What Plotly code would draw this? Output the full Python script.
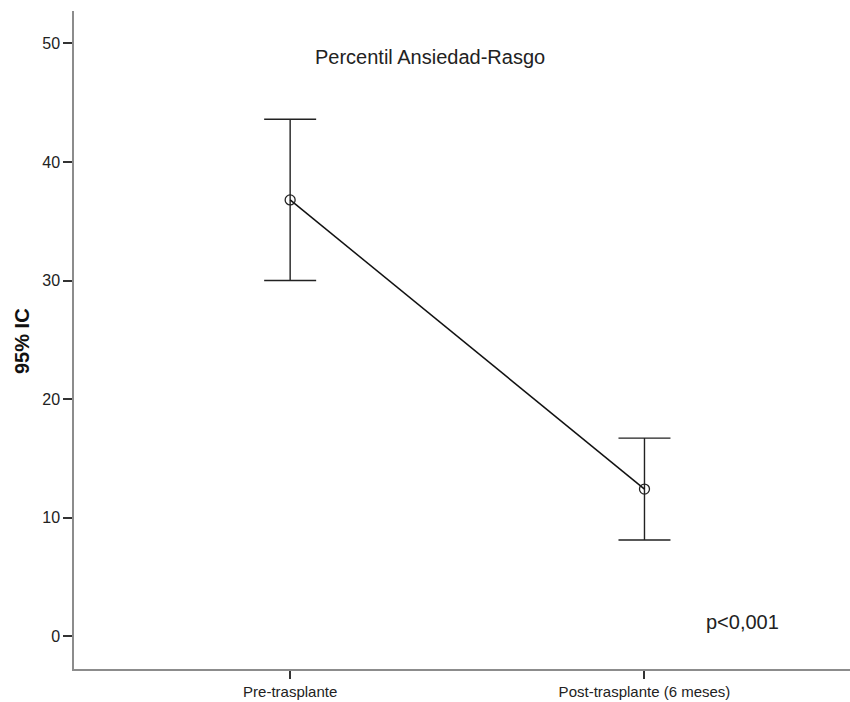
import plotly.graph_objects as go

categories = ["Pre-trasplante", "Post-trasplante (6 meses)"]
means = [36.8, 12.4]
upper = [43.6, 16.7]
lower = [30.0, 8.1]
y_ticks = [0, 10, 20, 30, 40, 50]
title_text = "Percentil Ansiedad-Rasgo"
p_text = "p<0,001"
y_label = "95% IC"

err_plus = [u - m for u, m in zip(upper, means)]
err_minus = [m - l for m, l in zip(means, lower)]
xpos = list(range(len(categories)))

FONT = "Liberation Sans, Arial, sans-serif"

fig = go.Figure()
fig.add_trace(go.Scatter(
    x=xpos, y=means,
    mode="lines+markers",
    line=dict(color="#111111", width=1.5),
    marker=dict(symbol="circle-open", size=10, color="#222222", line=dict(width=1.3, color="#222222")),
    error_y=dict(type="data", symmetric=False, array=err_plus, arrayminus=err_minus,
                 color="#222222", thickness=1.4, width=26),
    showlegend=False,
))

fig.update_layout(
    width=850, height=702,
    margin=dict(l=74, r=0, t=11, b=33),
    paper_bgcolor="white", plot_bgcolor="white",
    font=dict(family=FONT, color="#222222"),
    xaxis=dict(
        range=[-0.61, 1.58], tickmode="array", tickvals=xpos, ticktext=categories,
        showgrid=False, zeroline=False, showline=True, linecolor="#8c8c8c", linewidth=1.5,
        ticks="outside", ticklen=8, tickwidth=1.5, tickcolor="#333333",
        tickfont=dict(size=15, family=FONT, color="#222222"),
    ),
    yaxis=dict(
        range=[-2.78, 52.74], tickmode="array", tickvals=y_ticks,
        showgrid=False, zeroline=False, showline=True, linecolor="#8c8c8c", linewidth=1.5,
        ticks="outside", ticklen=9, tickwidth=1.5, tickcolor="#333333",
        tickfont=dict(size=16, family=FONT, color="#222222"),
    ),
    annotations=[
        dict(text=title_text, xref="paper", yref="paper", x=0.4588, y=0.930,
             xanchor="center", yanchor="middle", showarrow=False,
             font=dict(size=20, family=FONT, color="#222222")),
        dict(text=p_text, xref="paper", yref="paper", x=0.861, y=0.0714,
             xanchor="center", yanchor="middle", showarrow=False,
             font=dict(size=20, family=FONT, color="#222222")),
        dict(text="<b>" + y_label + "</b>", xref="paper", yref="paper", x=-(74 - 22) / 776, y=(669 - 341) / 658,
             xanchor="center", yanchor="middle", showarrow=False, textangle=-90,
             font=dict(size=20, family=FONT, color="#111111")),
    ],
)

fig.write_html(
    "out.html",
    config={"displayModeBar": False},
    post_script="document.body.style.margin='0';document.body.style.overflow='hidden';",
)
